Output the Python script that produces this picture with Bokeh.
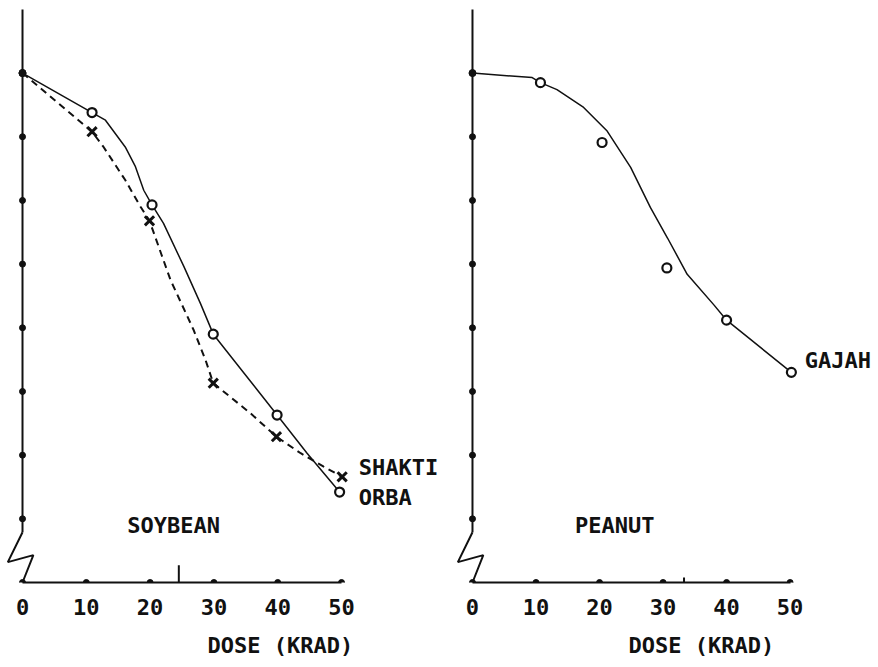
from bokeh.plotting import figure
from bokeh.layouts import row
from bokeh.models import Range1d, FixedTicker, Title
from bokeh.core.properties import value
from bokeh.embed import file_html
from bokeh.resources import INLINE

# ---------------- data ----------------
DOSE_TICKS = [0, 10, 20, 30, 40, 50]
Y_TICKS = [100, 90, 80, 70, 60, 50, 40, 30]

# Soybean, cv. ORBA (open circles, solid curve)
orba_x = [0, 10.9, 20.3, 29.9, 39.9, 49.7]
orba_y = [100, 93.8, 79.3, 59.0, 46.3, 34.2]
orba_curve_x = [0, 10.9, 13.0, 16.1, 17.7, 19.0, 20.3, 22.1, 25.3, 27.9, 29.9, 34.7, 39.9, 44.6, 49.7]
orba_curve_y = [100, 93.8, 92.6, 88.4, 85.3, 81.6, 79.3, 76.4, 69.6, 63.8, 59.0, 52.9, 46.3, 40.3, 34.2]

# Soybean, cv. SHAKTI (crosses, dashed curve)
shakti_x = [0, 10.9, 19.9, 29.9, 39.8, 50.1]
shakti_y = [100, 90.8, 76.8, 51.3, 42.9, 36.6]
shakti_curve_x = [0, 10.9, 12.7, 16.1, 18.5, 19.9, 23.2, 26.8, 28.7, 29.9, 35.7, 39.8, 43.6, 47.2, 50.1]
shakti_curve_y = [100, 90.8, 88.4, 83.2, 79.0, 76.8, 67.5, 59.7, 54.9, 51.3, 46.6, 42.9, 40.3, 38.2, 36.6]

# Peanut, cv. GAJAH (open circles, solid curve)
gajah_x = [0, 10.7, 20.4, 30.6, 40.0, 50.2]
gajah_y = [100, 98.5, 89.1, 69.4, 61.2, 53.0]
gajah_curve_x = [0, 9.4, 10.7, 13.3, 17.5, 21.2, 24.9, 28.0, 30.7, 33.8, 38.0, 40.0, 50.2]
gajah_curve_y = [100, 99.3, 98.5, 97.4, 94.6, 90.9, 85.2, 78.9, 74.1, 68.4, 63.6, 61.2, 53.0]

AXIS_Y = 20          # value at which the (broken) dose axis sits
Y_TOP = 110          # top of the drawn vertical axis

FONT_NAME = "DejaVu Sans Mono"
FONT = value(FONT_NAME)
FSIZE = "22px"
INK = "#111111"


def panel(xr, fw, series, labels, extra_tick, dose_offset):
    p = figure(frame_width=fw, frame_height=582,
               x_range=xr, y_range=Range1d(AXIS_Y, 111.4),
               output_backend="svg", toolbar_location=None,
               y_axis_location=None, min_border_left=0, min_border_right=0,
               min_border_top=0, min_border_bottom=0)
    p.outline_line_color = None
    p.grid.visible = False
    p.background_fill_color = "white"
    p.border_fill_color = "white"

    ax = p.xaxis[0]
    ax.ticker = FixedTicker(ticks=DOSE_TICKS)
    ax.bounds = (0, 50)
    ax.axis_line_color = INK
    ax.axis_line_width = 2
    ax.major_tick_in = 0
    ax.major_tick_out = 0
    ax.minor_tick_in = 0
    ax.minor_tick_out = 0
    ax.major_label_text_font = FONT_NAME
    ax.major_label_text_font_style = "bold"
    ax.major_label_text_font_size = FSIZE
    ax.major_label_text_color = INK
    ax.major_label_standoff = 16

    p.add_layout(Title(text="DOSE (KRAD)", align="left", offset=dose_offset,
                       text_font=FONT_NAME, text_font_style="bold", text_font_size=FSIZE,
                       text_color=INK, standoff=27), "below")

    # vertical axis with a break near the bottom
    p.line([0, 0], [Y_TOP, 27.9], line_color=INK, line_width=2)
    brk_x = [0, -2.3, 1.7, 0]
    brk_y = [27.9, 23.2, 24.3, AXIS_Y]
    p.line(brk_x, brk_y, line_color=INK, line_width=2)
    p.scatter([0] * len(Y_TICKS), Y_TICKS, size=6, color=INK)
    p.scatter(DOSE_TICKS, [AXIS_Y] * len(DOSE_TICKS), size=6, color=INK)
    p.segment(x0=[extra_tick[0]], y0=[extra_tick[1]], x1=[extra_tick[0]], y1=[extra_tick[2]],
              line_color=INK, line_width=2)

    for s in series:
        p.line(s["cx"], s["cy"], line_color=INK, line_width=s["lw"], line_dash=s["dash"])
        if s["marker"] == "circle":
            p.scatter(s["x"][1:], s["y"][1:], marker="circle", size=9,
                      fill_color="white", line_color=INK, line_width=2.2)
        else:
            p.scatter(s["x"][1:], s["y"][1:], marker="x", size=13,
                      line_color=INK, line_width=3)
        p.scatter([s["x"][0]], [s["y"][0]], size=7, color=INK)

    for (tx, ty, t, al) in labels:
        p.text(x=[tx], y=[ty], text=[t], text_font=FONT, text_font_style="bold",
               text_font_size=FSIZE, text_color=INK, text_align=al,
               text_baseline="middle")
    return p


p1 = panel(Range1d(-3.45, 65.2), 438,
           [dict(x=orba_x, y=orba_y, cx=orba_curve_x, cy=orba_curve_y, lw=1.5, dash="solid", marker="circle"),
            dict(x=shakti_x, y=shakti_y, cx=shakti_curve_x, cy=shakti_curve_y, lw=2, dash="7 5", marker="x")],
           [(52.7, 38.1, "SHAKTI", "left"), (52.7, 33.4, "ORBA", "left"), (23.7, 29.0, "SOYBEAN", "center")],
           (24.5, 20, 22.7), 207)

p2 = panel(Range1d(-5.35, 63.6), 438,
           [dict(x=gajah_x, y=gajah_y, cx=gajah_curve_x, cy=gajah_curve_y, lw=1.5, dash="solid", marker="circle")],
           [(52.3, 54.8, "GAJAH", "left"), (22.4, 29.0, "PEANUT", "center")],
           (33.3, 20, 20.8), 190)

layout = row(p1, p2)
open("out.html", "w").write(file_html(layout, INLINE))
